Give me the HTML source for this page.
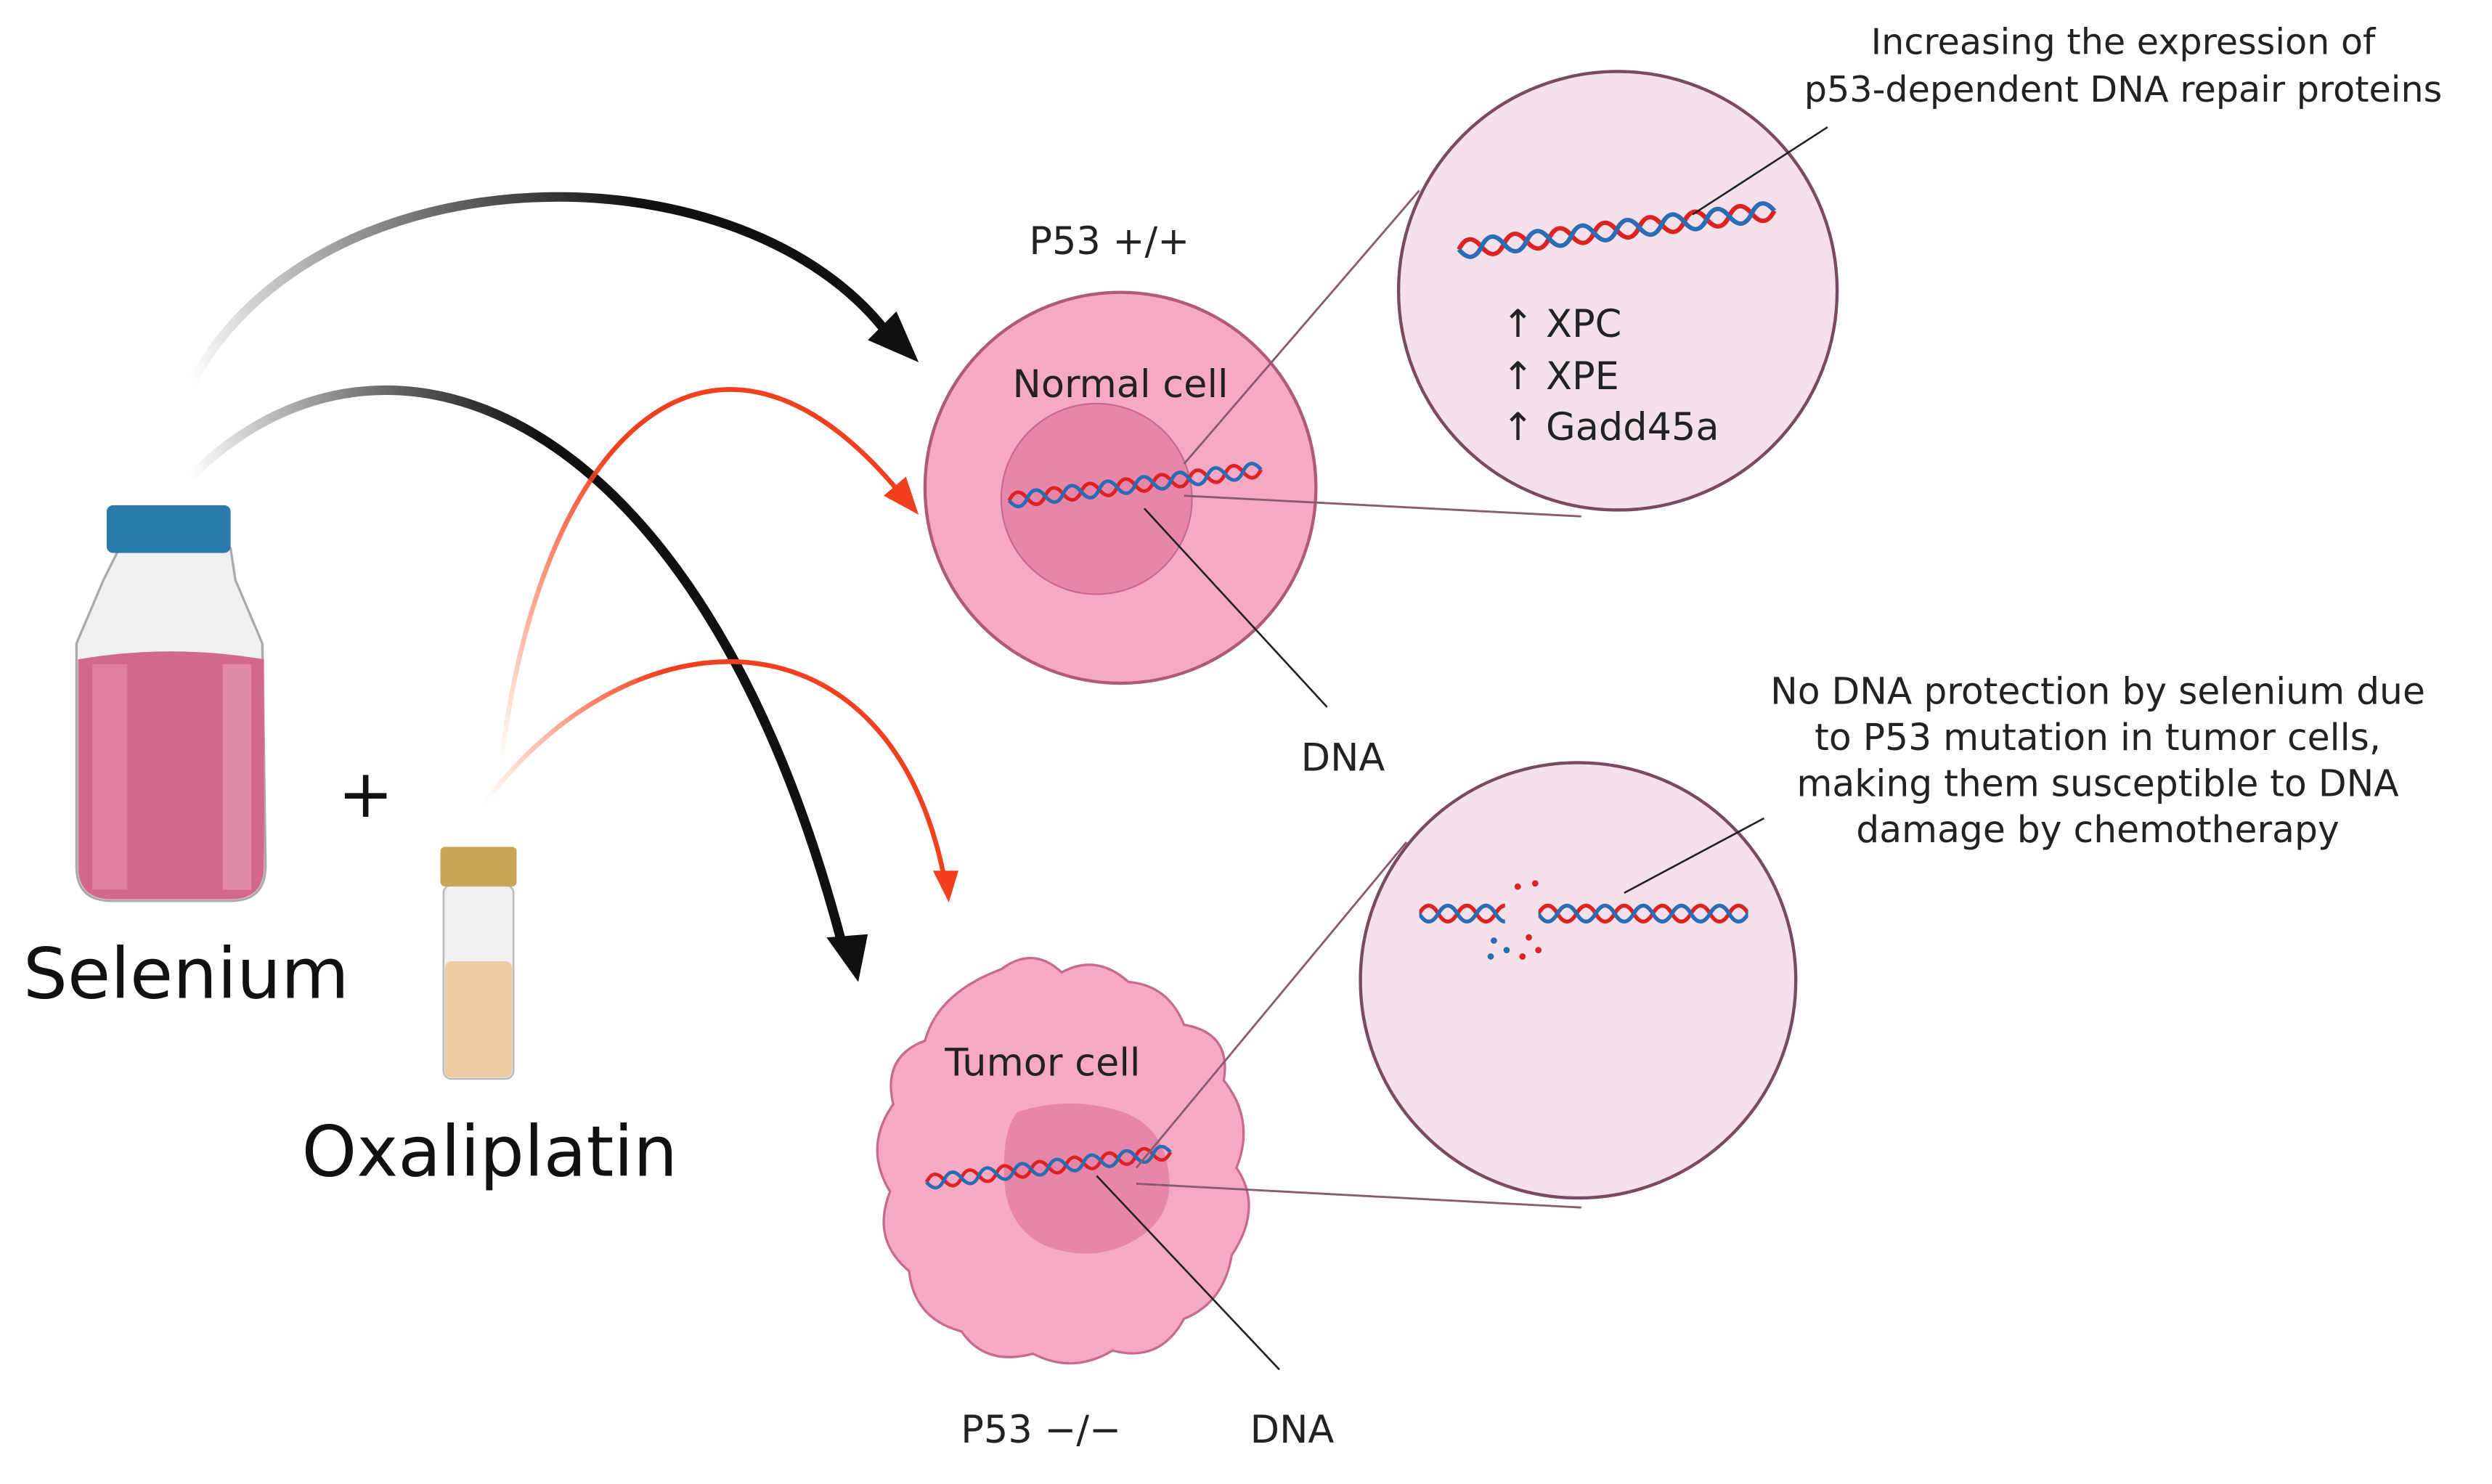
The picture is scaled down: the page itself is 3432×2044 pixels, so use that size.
<!DOCTYPE html>
<html><head><meta charset="utf-8"><style>html,body{margin:0;padding:0;background:#fff}svg{display:block}</style></head>
<body>
<svg width="3432" height="2044" viewBox="0 0 1568 934" xmlns="http://www.w3.org/2000/svg" font-family="'DejaVu Sans','Liberation Sans',sans-serif">
<defs>
<linearGradient id="gk1" gradientUnits="userSpaceOnUse" x1="120" y1="240" x2="400" y2="120"><stop offset="0" stop-color="#000" stop-opacity="0"/><stop offset="1" stop-color="#111"/></linearGradient>
<linearGradient id="gk2" gradientUnits="userSpaceOnUse" x1="120" y1="300" x2="330" y2="240"><stop offset="0" stop-color="#000" stop-opacity="0"/><stop offset="1" stop-color="#111"/></linearGradient>
<linearGradient id="gr1" gradientUnits="userSpaceOnUse" x1="315" y1="480" x2="380" y2="280"><stop offset="0" stop-color="#f52" stop-opacity="0"/><stop offset="1" stop-color="#f2401e"/></linearGradient>
<linearGradient id="gr2" gradientUnits="userSpaceOnUse" x1="305" y1="505" x2="420" y2="430"><stop offset="0" stop-color="#f52" stop-opacity="0"/><stop offset="1" stop-color="#f2401e"/></linearGradient>
<g id="hx">
<path d="M0,0 q6,-10 12,0 t12,0 t12,0 t12,0 t12,0 t12,0 t12,0 t12,0 t12,0 t12,0 t12,0 t12,0 t12,0 t12,0" fill="none" stroke="#d22" stroke-width="2.5"/>
<path d="M0,0 q6,10 12,0 t12,0 t12,0 t12,0 t12,0 t12,0 t12,0 t12,0 t12,0 t12,0 t12,0 t12,0 t12,0 t12,0" fill="none" stroke="#2a6db5" stroke-width="2.5"/>
</g>
</defs>
<path d="M120,242 C200,90 470,90 560,212" fill="none" stroke="url(#gk1)" stroke-width="6"/>
<polygon points="578,228 546,214 564,196" fill="#111"/>
<path d="M120,300 C240,180 440,250 530,595" fill="none" stroke="url(#gk2)" stroke-width="6"/>
<polygon points="540,618 520,590 546,588" fill="#111"/>
<path d="M315,482 C340,270 450,170 566,310" fill="none" stroke="url(#gr1)" stroke-width="3"/>
<polygon points="578,324 556,312 570,300" fill="#f2401e"/>
<path d="M305,505 C400,380 560,380 594,552" fill="none" stroke="url(#gr2)" stroke-width="3"/>
<polygon points="597,568 587,548 603,548" fill="#f2401e"/>
<!-- normal cell -->
<circle cx="705" cy="307" r="123" fill="#f5a9c4" stroke="#b05a7a" stroke-width="2"/>
<circle cx="690" cy="314" r="60" fill="#e886aa" stroke="#c86a8e" stroke-width="1"/>
<text x="705" y="250" font-size="24" text-anchor="middle" fill="#222">Normal cell</text>
<text x="698" y="160" font-size="24" text-anchor="middle" fill="#222">P53 +/+</text>
<use href="#hx" transform="translate(635,315) rotate(-7) scale(0.95,0.9)"/>
<line x1="720" y1="320" x2="835" y2="445" stroke="#222" stroke-width="1.2"/>
<text x="845" y="485" font-size="24" text-anchor="middle" fill="#222">DNA</text>
<!-- zoom circle 1 -->
<circle cx="1018" cy="183" r="138" fill="#f4e0ea" stroke="#7a4a60" stroke-width="2"/>
<use href="#hx" transform="translate(918,157) rotate(-7) scale(1.19,1.1)"/>
<line x1="1065" y1="135" x2="1150" y2="80" stroke="#222" stroke-width="1.2"/>
<text font-size="24" fill="#222"><tspan x="945" y="212">↑ XPC</tspan><tspan x="945" y="245">↑ XPE</tspan><tspan x="945" y="277">↑ Gadd45a</tspan></text>
<text font-size="22.5" text-anchor="middle" fill="#222"><tspan x="1336" y="34">Increasing the expression of</tspan><tspan x="1336" y="64">p53-dependent DNA repair proteins</tspan></text>
<!-- tumor cell -->
<path d="M630,610 Q650,595 668,612 Q690,600 710,618 Q735,620 745,645 Q775,650 770,680 Q790,705 778,735 Q795,760 775,790 Q770,820 745,830 Q730,858 700,850 Q675,865 650,852 Q620,860 605,838 Q575,830 572,800 Q548,780 560,750 Q543,722 562,695 Q555,665 582,655 Q590,625 630,610 Z" fill="#f5a9c4" stroke="#c86a8e" stroke-width="1.5"/>
<path d="M640,700 Q670,690 700,698 Q730,705 735,735 Q740,765 715,780 Q690,795 660,785 Q635,775 632,745 Q630,712 640,700 Z" fill="#e886aa"/>
<text x="656" y="677" font-size="24" text-anchor="middle" fill="#222">Tumor cell</text>
<use href="#hx" transform="translate(583,744) rotate(-7) scale(0.92,0.85)"/>
<line x1="690" y1="740" x2="805" y2="862" stroke="#222" stroke-width="1.2"/>
<text x="655" y="908" font-size="24" text-anchor="middle" fill="#222">P53 −/−</text>
<text x="813" y="908" font-size="24" text-anchor="middle" fill="#222">DNA</text>
<!-- zoom circle 2 -->
<circle cx="993" cy="617" r="137" fill="#f4e0ea" stroke="#7a4a60" stroke-width="2"/>
<svg x="893" y="560" width="54" height="30" viewBox="0 -15 54 30" overflow="hidden"><use href="#hx"/></svg>
<svg x="968" y="560" width="132" height="30" viewBox="0 -15 132 30" overflow="hidden"><use href="#hx"/></svg>
<g fill="#d22"><circle cx="955" cy="558" r="2"/><circle cx="966" cy="556" r="2"/><circle cx="962" cy="590" r="2"/><circle cx="958" cy="602" r="2"/><circle cx="968" cy="598" r="2"/></g>
<g fill="#2a6db5"><circle cx="940" cy="592" r="2"/><circle cx="948" cy="598" r="2"/><circle cx="938" cy="602" r="2"/></g>
<line x1="1022" y1="562" x2="1110" y2="515" stroke="#222" stroke-width="1.2"/>
<text font-size="23" text-anchor="middle" fill="#222"><tspan x="1320" y="443">No DNA protection by selenium due</tspan><tspan x="1320" y="472">to P53 mutation in tumor cells,</tspan><tspan x="1320" y="501">making them susceptible to DNA</tspan><tspan x="1320" y="530">damage by chemotherapy</tspan></text>
<!-- zoom lines on top -->
<line x1="745" y1="292" x2="893" y2="120" stroke="#8a5a6e" stroke-width="1.3"/>
<line x1="745" y1="312" x2="995" y2="325" stroke="#8a5a6e" stroke-width="1.3"/>
<line x1="715" y1="735" x2="885" y2="530" stroke="#8a5a6e" stroke-width="1.3"/>
<line x1="715" y1="745" x2="995" y2="760" stroke="#8a5a6e" stroke-width="1.3"/>
<!-- bottle -->
<path d="M75,345 L145,345 L148,365 L165,405 L167,545 Q167,567 145,567 L70,567 Q48,567 48,545 L48,405 L65,365 Z" fill="#eef0f2" stroke="#aaa" stroke-width="1.5"/>
<path d="M49,415 Q107,405 166,415 L166,545 Q166,566 145,566 L70,566 Q49,566 49,545 Z" fill="#d2688a"/>
<rect x="58" y="418" width="22" height="142" fill="#e08aa6" opacity="0.7"/>
<rect x="140" y="418" width="18" height="142" fill="#e598b2" opacity="0.7"/>
<rect x="67" y="318" width="78" height="30" rx="4" fill="#2a7bab"/>
<text x="230" y="514" font-size="42" text-anchor="middle" fill="#111">+</text>
<rect x="279" y="557" width="44" height="122" rx="5" fill="#eef0f2" stroke="#bbb" stroke-width="1.2"/>
<rect x="280" y="605" width="42" height="73" rx="4" fill="#efc9a0"/>
<rect x="277" y="533" width="48" height="25" rx="3" fill="#c9a55a"/>
<text x="117" y="628" font-size="44" text-anchor="middle" fill="#111">Selenium</text>
<text x="308" y="740" font-size="44" text-anchor="middle" fill="#111">Oxaliplatin</text>
</svg>
</body></html>
